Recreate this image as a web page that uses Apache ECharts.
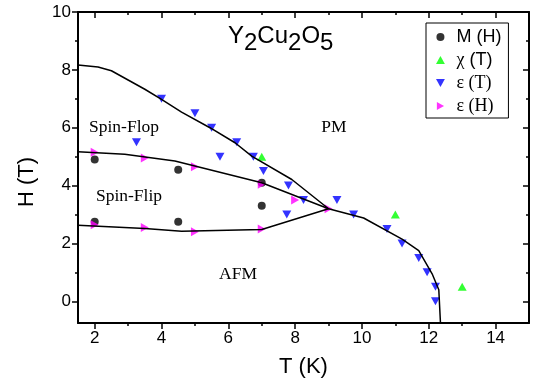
<!DOCTYPE html>
<html>
<head>
<meta charset="utf-8">
<script src="https://cdn.jsdelivr.net/npm/echarts@6/dist/echarts.min.js"></script>
<style>
  html, body { margin: 0; padding: 0; background: #fff; }
  #chart { width: 536px; height: 385px; }
</style>
</head>
<body>
<div id="chart"></div>
<script>
// Y2Cu2O5 phase diagram: H (T) vs T (K)
const SANS = '"Liberation Sans", Arial, sans-serif';
const SERIF = '"Liberation Serif", "Times New Roman", serif';

// ticks
const xMajor = [2, 4, 6, 8, 10, 12, 14];
const xMinor = [3, 5, 7, 9, 11, 13];
const yMajor = [0, 2, 4, 6, 8, 10];
const yMinor = [1, 3, 5, 7, 9];

// measured points [T, H]
const mH = [[2, 4.9], [4.5, 4.55], [7, 4.1], [2, 2.75], [4.5, 2.75], [7, 3.3]];
const chiT = [[7, 5.0], [11, 3.0], [13, 0.5]];
const epsT = [[3.25, 5.5], [4, 7.0], [5, 6.5], [5.5, 6.0], [5.75, 5.0], [6.25, 5.5], [6.75, 5.0],
  [7.05, 4.5], [7.75, 3.0], [7.8, 4.0], [8.25, 3.5], [9.25, 3.5], [9.75, 3.0], [10.75, 2.5],
  [11.2, 2.0], [11.7, 1.5], [11.95, 1.0], [12.2, 0.5], [12.2, 0.0]];
const epsH = [[2, 5.15], [3.5, 4.95], [5, 4.65], [7, 4.05], [8, 3.5], [9, 3.2],
  [2, 2.65], [3.5, 2.55], [5, 2.4], [7, 2.5]];

// phase boundaries
const pmLine = [[1.5, 8.17], [2.1, 8.1], [2.5, 7.97], [3, 7.65], [3.5, 7.33], [4, 6.98], [4.6, 6.54],
  [5.45, 6.0], [6.2, 5.48], [6.7, 5.02], [7.9, 4.21], [9, 3.2], [10.05, 2.88], [11.2, 2.15],
  [11.7, 1.75], [12.1, 0.95], [12.3, 0.4], [12.35, -0.75]];
const flopLine = [[1.5, 5.17], [2.9, 5.08], [4.4, 4.85], [7, 4.1], [9, 3.2]];
const flipLine = [[1.5, 2.63], [3.5, 2.52], [4.6, 2.42], [7, 2.48], [9, 3.2]];

const X_MIN = 1.5, X_MAX = 15, Y_MIN = -0.75, Y_MAX = 10;

function axis(dim, pos, ticks, len, inside, withLine, withLabels) {
  return {
    type: 'value', position: pos,
    min: dim === 'x' ? X_MIN : Y_MIN, max: dim === 'x' ? X_MAX : Y_MAX,
    axisLine: { show: withLine, onZero: false, lineStyle: { color: '#000', width: 2 } },
    axisTick: { show: true, inside: inside, length: len, customValues: ticks,
      lineStyle: { color: '#000', width: 1.5 } },
    axisLabel: { show: withLabels, customValues: ticks, color: '#000',
      fontFamily: SANS, fontSize: 17, margin: 7 },
    splitLine: { show: false },
  };
}

const chart = echarts.init(document.getElementById('chart'), null, { renderer: 'canvas' });

const tri = [9, 8];
// legend text: g = serif (Greek, ε entries), t = sans
const legendText = {
  'M (H)': '{t|M (H)}',
  'χ (T)': '{g|χ}{t| (T)}',
  'ε (T)': '{g|ε (T)}',
  'ε (H)': '{g|ε (H)}',
};

function boundary(data) {
  return { type: 'line', data: data, symbol: 'none', showSymbol: false, silent: true,
    lineStyle: { color: '#000', width: 1.5 }, z: 5 };
}

const region = (text, x, y) => ({
  type: 'text', x: x, y: y,
  style: { text: text, fontFamily: SERIF, fontSize: 17.5, fill: '#000', align: 'center', verticalAlign: 'middle' },
});

chart.setOption({
  animation: false,
  backgroundColor: '#fff',
  grid: { left: 78, right: 7, top: 12, bottom: 62 },
  xAxis: [
    Object.assign(axis('x', 'bottom', xMajor, 6, false, true, true), {
      name: 'T (K)', nameLocation: 'middle', nameGap: 33,
      nameTextStyle: { color: '#000', fontFamily: SANS, fontSize: 22 },
    }),
    axis('x', 'bottom', xMinor, 3, false, false, false),
    axis('x', 'top', xMajor, 6, true, true, false),
    axis('x', 'top', xMinor, 3, true, false, false),
  ],
  yAxis: [
    axis('y', 'left', yMajor, 6, false, true, true),
    axis('y', 'left', yMinor, 3, false, false, false),
    axis('y', 'right', yMajor, 6, true, true, false),
    axis('y', 'right', yMinor, 3, true, false, false),
  ],
  legend: {
    data: [
      { name: 'M (H)', icon: 'circle' },
      { name: 'χ (T)', icon: 'path://M5,0L10,9L0,9Z' },
      { name: 'ε (T)', icon: 'path://M0,0L10,0L5,9Z' },
      { name: 'ε (H)', icon: 'path://M0,0L9,5L0,10Z' },
    ],
    orient: 'vertical', left: 426, top: 23,
    padding: [5, 7, 3, 10], itemWidth: 22, itemHeight: 8, itemGap: 5,
    symbolKeepAspect: true,
    borderColor: '#000', borderWidth: 1, borderRadius: 0,
    textStyle: {
      color: '#000', fontSize: 18,
      rich: {
        g: { fontFamily: '"Liberation Serif"', fontSize: 18, lineHeight: 18, color: '#000' },
        t: { fontFamily: '"Liberation Sans"', fontSize: 18, lineHeight: 18, color: '#000' },
      },
    },
    formatter: (name) => legendText[name],
    selectedMode: false,
  },
  graphic: [
    {
      type: 'text', left: 228, top: 24,
      style: {
        text: '{m|Y}{s|2}{m|Cu}{s|2}{m|O}{s|5}',
        rich: {
          m: { fontFamily: SANS, fontSize: 24, lineHeight: 24, color: '#000', padding: [0, 0, 7, 0] },
          s: { fontFamily: SANS, fontSize: 24, lineHeight: 24, color: '#000', padding: [7, 0, 0, 0] },
        },
      },
    },
    {
      type: 'text', x: 27, y: 182, rotation: Math.PI / 2,
      style: { text: 'H (T)', fontFamily: SANS, fontSize: 22, fill: '#000', align: 'center', verticalAlign: 'middle' },
    },
    region('Spin-Flop', 124, 127),
    region('PM', 334, 127),
    region('Spin-Flip', 129, 196),
    region('AFM', 238, 274),
  ],
  series: [
    { name: 'M (H)', type: 'scatter', data: mH, symbol: 'circle', symbolSize: 8,
      itemStyle: { color: '#000' } },
    { name: 'χ (T)', type: 'scatter', data: chiT, symbol: 'triangle', symbolSize: tri,
      itemStyle: { color: '#00ff00' } },
    { name: 'ε (T)', type: 'scatter', data: epsT, symbol: 'triangle', symbolSize: tri, symbolRotate: 180,
      itemStyle: { color: '#0000ff' } },
    { name: 'ε (H)', type: 'scatter', data: epsH, symbol: 'triangle', symbolSize: tri, symbolRotate: -90,
      itemStyle: { color: '#ff00ff' } },
    boundary(pmLine),
    boundary(flopLine),
    boundary(flipLine),
  ],
});
</script>
</body>
</html>
